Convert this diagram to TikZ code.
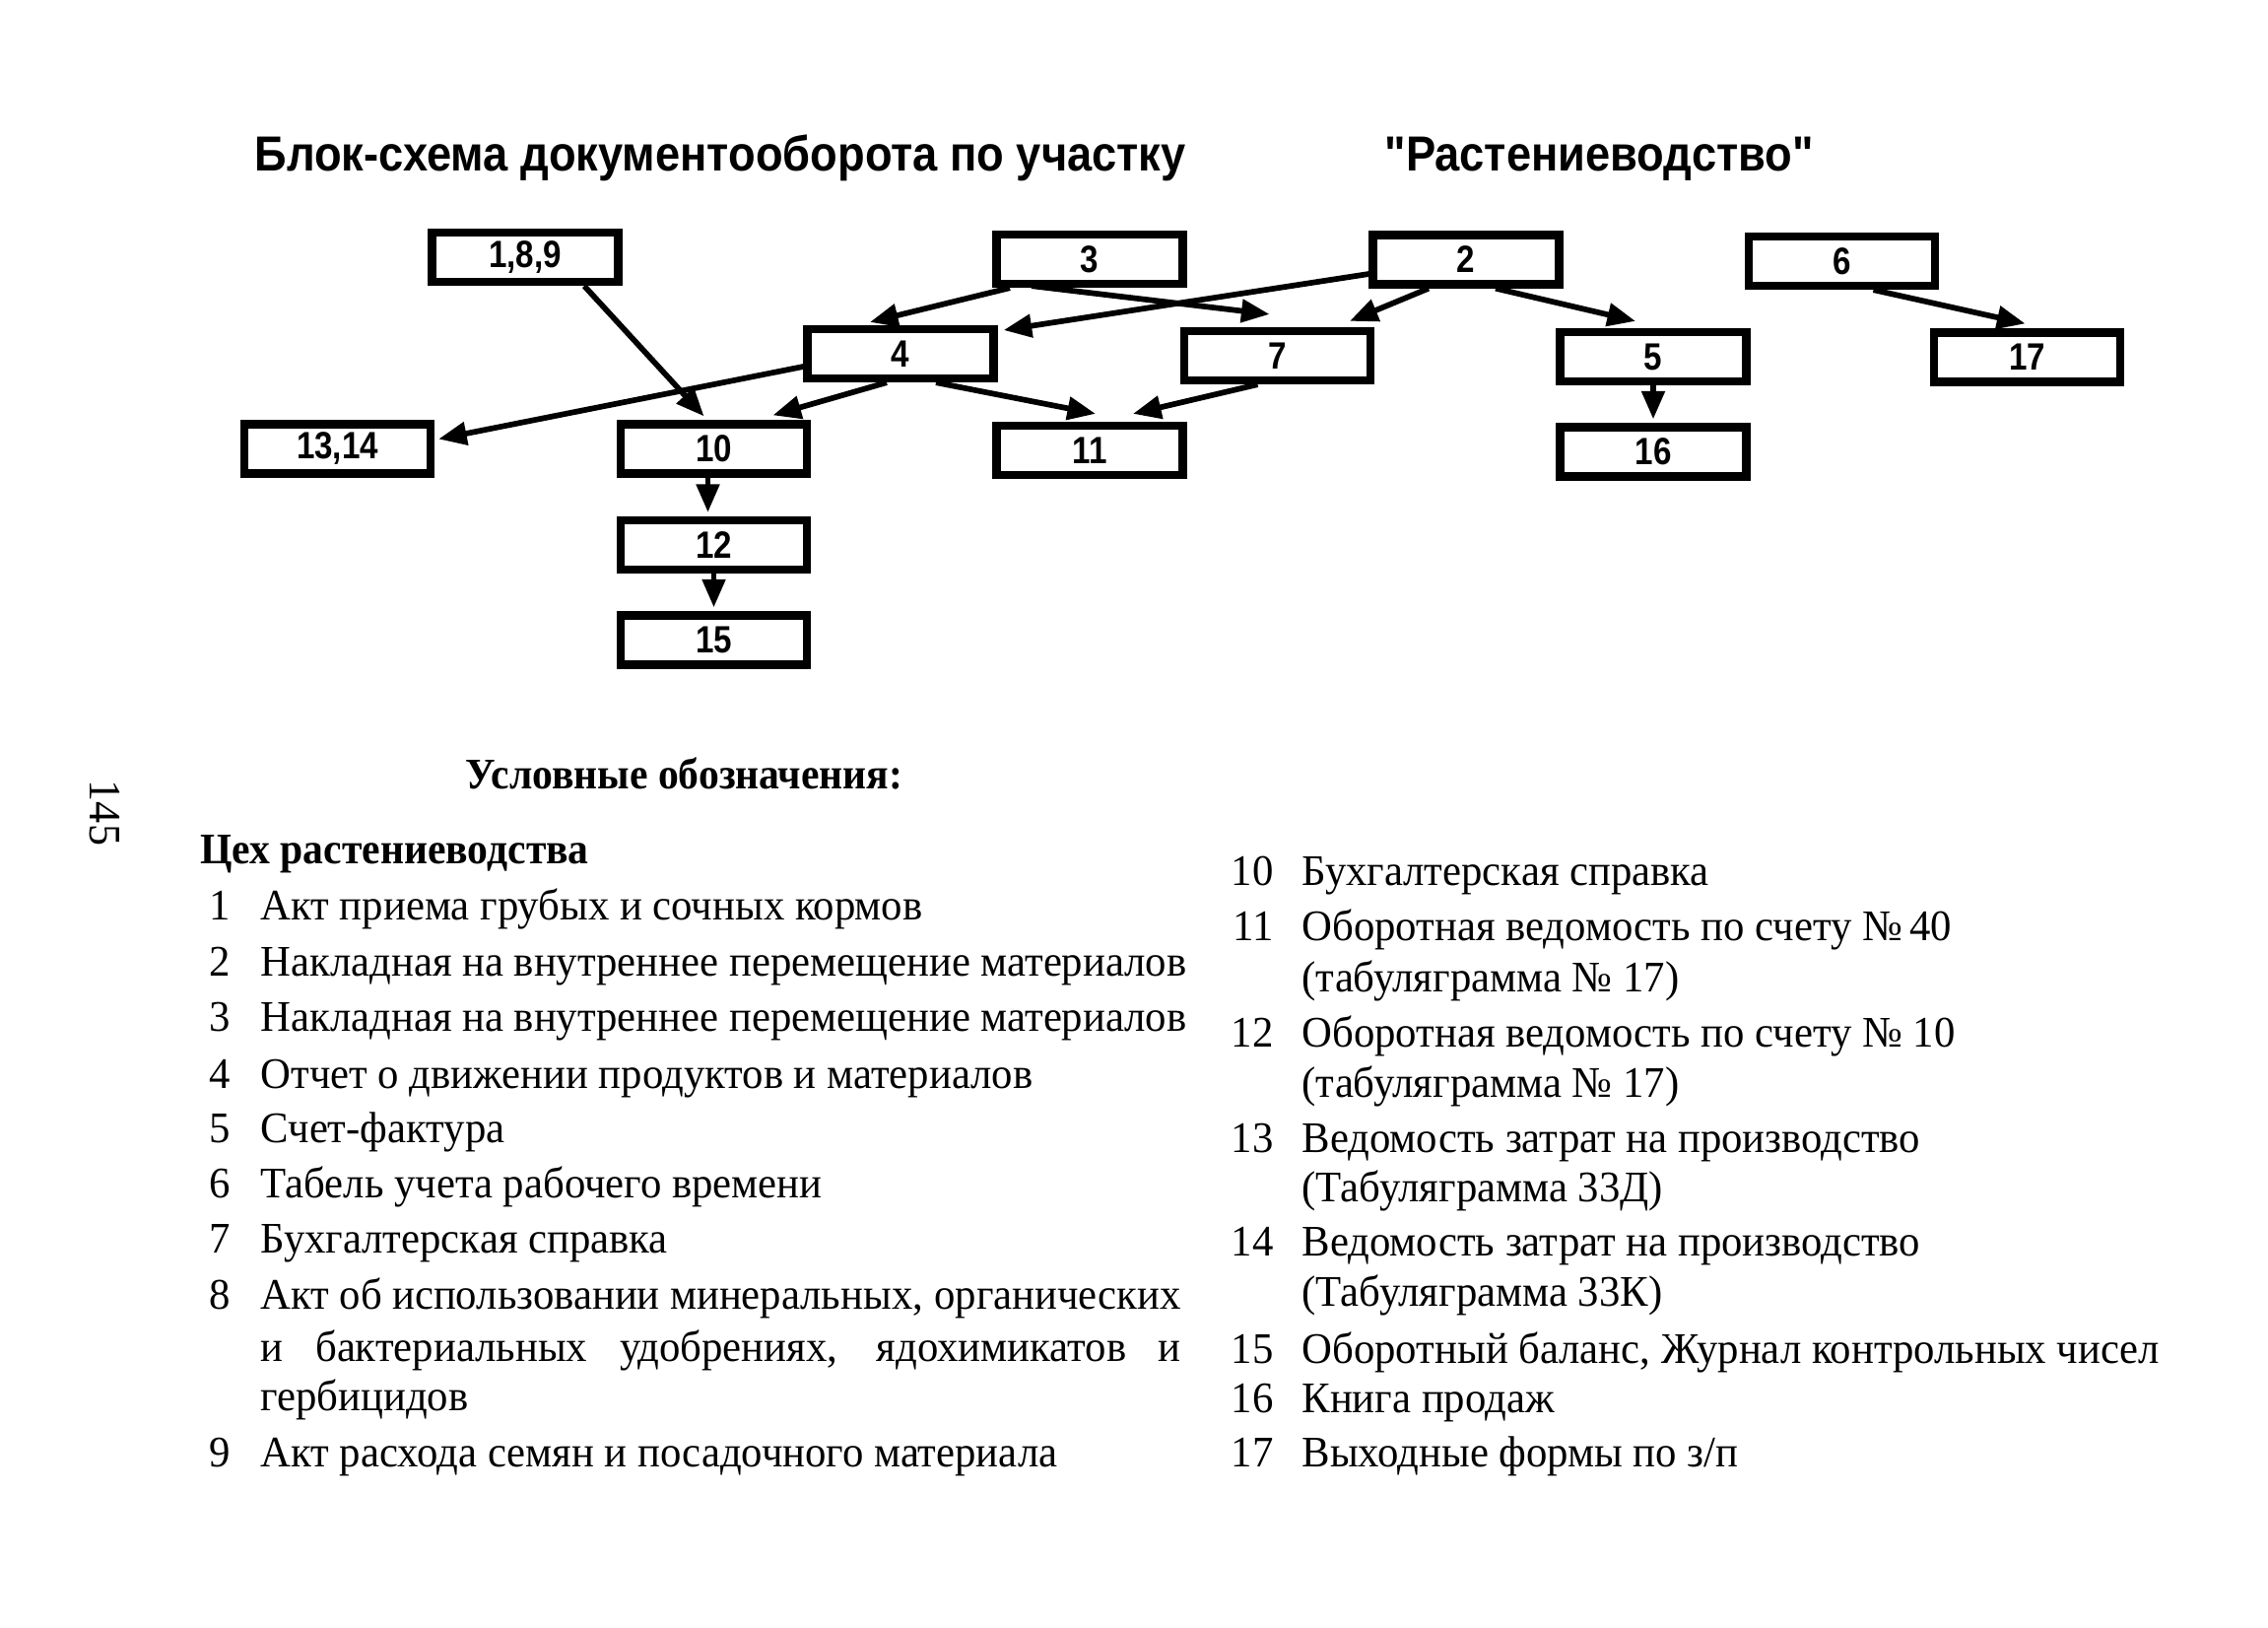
\documentclass[tikz,border=0pt]{standalone}
\usepackage{fontspec}
\setmainfont{Liberation Serif}[FakeStretch=0.965]
\newfontfamily\headfont[FakeStretch=0.94]{Liberation Serif}
\newfontfamily\titlefont[FakeStretch=0.905]{Liberation Sans}
\newfontfamily\labfont[FakeStretch=0.86]{Liberation Sans}
\usetikzlibrary{arrows.meta,calc}
\newcommand{\justline}[1]{\makebox[327pt][s]{\spaceskip=0.16em plus 3em\relax #1}}
\begin{document}
\begin{tikzpicture}[x=0.35pt,y=-0.35pt,
  doc/.style={draw, line width=2.9pt, minimum width=66.15pt, minimum height=17.5pt,
    inner sep=0pt, font=\labfont\bfseries\fontsize{13.5}{13.5}\selectfont},
  flow/.style={line width=2pt, -{Triangle[length=10pt,width=8pt]}},
  ttl/.style={anchor=base west, inner sep=0pt, font=\titlefont\bfseries\fontsize{17.5}{20}\selectfont},
  leg/.style={anchor=base west, inner sep=0pt, font=\fontsize{15.5}{18}\selectfont},
  num/.style={anchor=base east, inner sep=0pt, font=\fontsize{15.5}{18}\selectfont},
  head/.style={anchor=base west, inner sep=0pt, font=\headfont\bfseries\fontsize{15.5}{18}\selectfont},
]
\useasboundingbox (0,0) rectangle (2302,1651);

% titles
\node[ttl] (t1) at (258,173) {Блок-схема документооборота по участку};
\node[ttl] (t2) at (1405,173) {"Растениеводство"};

% boxes
\node[doc] (n189)  at (533,261)    {1,8,9};
\node[doc] (n3)    at (1106,263)   {3};
\node[doc] (n2)    at (1488,263.5) {2};
\node[doc] (n6)    at (1869.5,265) {6};
\node[doc] (n4)    at (914,359)    {4};
\node[doc] (n7)    at (1296.5,361) {7};
\node[doc] (n5)    at (1678,362)   {5};
\node[doc] (n17)   at (2057.5,362.5) {17};
\node[doc] (n1314) at (342.5,455.5) {13,14};
\node[doc] (n10)   at (724.5,455.5) {10};
\node[doc] (n11)   at (1106,457)   {11};
\node[doc] (n16)   at (1678,458.5) {16};
\node[doc] (n12)   at (724.5,553)  {12};
\node[doc] (n15)   at (724.5,649.5) {15};

% connectors
\draw[flow] ($(n189.south)+(60,0)$) -- ($(n10.north)+(-10,-4)$);
\draw[flow] ($(n3.south)+(-81,0)$) -- ($(n4.north)+(-31,-3)$);
\draw[flow] ($(n3.south)+(-59,-2)$) -- ($(n7.north)+(-8,-13)$);
\draw[flow] ($(n2.west)+(0,14.5)$) -- ($(n4.east)+(6,-24)$);
\draw[flow] ($(n2.south)+(-38,0)$) -- ($(n7.north)+(73.5,-6)$);
\draw[flow] ($(n2.south)+(30,0)$) -- ($(n5.north)+(-18,-7)$);
\draw[flow] ($(n6.south)+(32,0)$) -- ($(n17.north)+(-2,-5)$);
\draw[flow] ($(n4.west)+(0,13)$) -- ($(n1314.east)+(4,-10)$);
\draw[flow] ($(n4.south)+(-14,0)$) -- ($(n10.north)+(60,-5)$);
\draw[flow] ($(n4.south)+(36,0)$) -- ($(n11.north)+(6,-8)$);
\draw[flow] ($(n7.south)+(-20,0)$) -- ($(n11.north)+(44,-8)$);
\draw[flow] (n5.south) -- ($(n16.north)+(0,-4)$);
\draw[flow] ($(n10.south)+(-6,0)$) -- ($(n12.north)+(-6,-4)$);
\draw[flow] (n12.south) -- ($(n15.north)+(0,-4)$);

% page number
\node[inner sep=0pt, rotate=-90, font=\fontsize{16}{18}\selectfont] (pg) at (106,825) {145};

% legend headings
\node[head] (h1) at (472,800) {Условные обозначения:};
\node[head] (h2) at (203,876) {Цех растениеводства};

% left column
\node[num] (a1) at (234,933) {1};
\node[leg] (b1) at (264,933) {Акт приема грубых и сочных кормов};
\node[num] (a2) at (234,990) {2};
\node[leg] (b2) at (264,990) {Накладная на внутреннее перемещение материалов};
\node[num] (a3) at (234,1046) {3};
\node[leg] (b3) at (264,1046) {Накладная на внутреннее перемещение материалов};
\node[num] (a4) at (234,1104) {4};
\node[leg] (b4) at (264,1104) {Отчет о движении продуктов и материалов};
\node[num] (a5) at (234,1159) {5};
\node[leg] (b5) at (264,1159) {Счет-фактура};
\node[num] (a6) at (234,1215) {6};
\node[leg] (b6) at (264,1215) {Табель учета рабочего времени};
\node[num] (a7) at (234,1271) {7};
\node[leg] (b7) at (264,1271) {Бухгалтерская справка};
\node[num] (a8) at (234,1328) {8};
\node[leg] (b8) at (264,1328) {\justline{Акт об использовании минеральных, органических}};
\node[leg] (b8b) at (264,1381) {\justline{и бактериальных удобрениях, ядохимикатов и}};
\node[leg] (b8c) at (264,1431) {гербицидов};
\node[num] (a9) at (234,1488) {9};
\node[leg] (b9) at (264,1488) {Акт расхода семян и посадочного материала};

% right column
\node[num] (a10) at (1293,898) {10};
\node[leg] (b10) at (1321,898) {Бухгалтерская справка};
\node[num] (a11) at (1293,954) {11};
\node[leg] (b11) at (1321,954) {Оборотная ведомость по счету №\,40};
\node[leg] (b11b) at (1321,1006) {(табуляграмма № 17)};
\node[num] (a12) at (1293,1062) {12};
\node[leg] (b12) at (1321,1062) {Оборотная ведомость по счету № 10};
\node[leg] (b12b) at (1321,1113) {(табуляграмма № 17)};
\node[num] (a13) at (1293,1169) {13};
\node[leg] (b13) at (1321,1169) {Ведомость затрат на производство};
\node[leg] (b13b) at (1321,1219) {(Табуляграмма 33Д)};
\node[num] (a14) at (1293,1274) {14};
\node[leg] (b14) at (1321,1274) {Ведомость затрат на производство};
\node[leg] (b14b) at (1321,1325) {(Табуляграмма 33К)};
\node[num] (a15) at (1293,1383) {15};
\node[leg] (b15) at (1321,1383) {Оборотный баланс, Журнал контрольных чисел};
\node[num] (a16) at (1293,1433) {16};
\node[leg] (b16) at (1321,1433) {Книга продаж};
\node[num] (a17) at (1293,1488) {17};
\node[leg] (b17) at (1321,1488) {Выходные формы по з/п};
\end{tikzpicture}
\end{document}
